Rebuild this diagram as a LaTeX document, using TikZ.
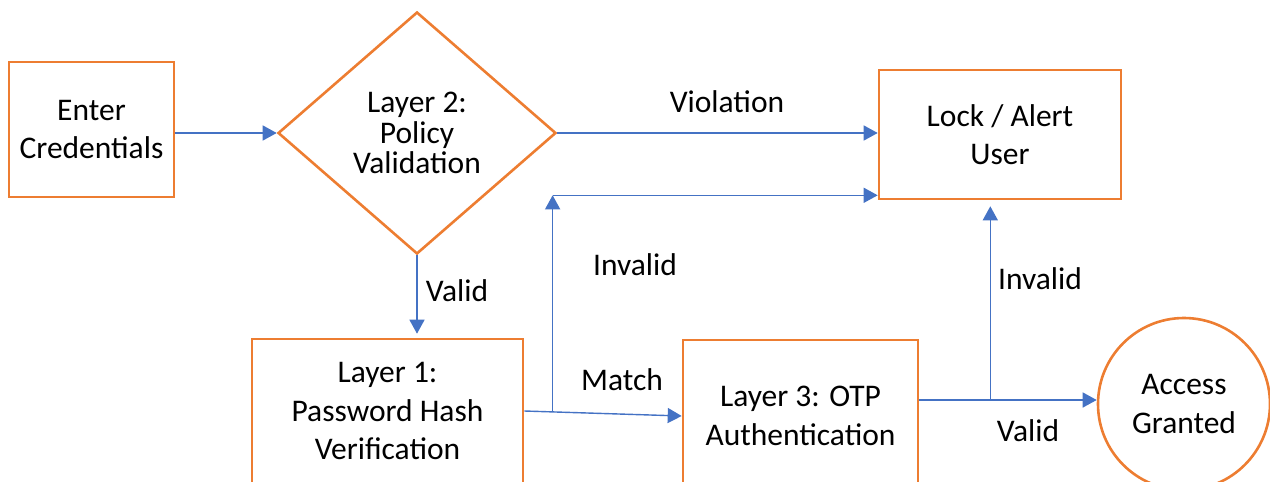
\documentclass[tikz,border=0pt]{standalone}
\usepackage{fontspec}
\setmainfont{Carlito}
\usetikzlibrary{arrows.meta,shapes.geometric,calc}
\definecolor{boxorange}{RGB}{237,125,49}
\definecolor{flowblue}{RGB}{68,114,196}
\tikzset{
  box/.style={draw=boxorange, line width=2.6pt, rectangle, align=center,
    inner sep=0pt, font=\fontsize{31.5}{38.5}\selectfont},
  decision/.style={draw=boxorange, line width=2.6pt, diamond, align=center,
    inner sep=0pt, font=\fontsize{31.5}{30.5}\selectfont},
  terminal/.style={draw=boxorange, line width=2.6pt, circle, align=center,
    inner sep=0pt, font=\fontsize{31.5}{38.5}\selectfont},
  flow/.style={draw=flowblue, line width=1.4pt,
    -{Triangle[length=14pt,width=15pt]}},
  link/.style={draw=flowblue, line width=1.4pt},
  lbl/.style={font=\fontsize{31.5}{38.5}\selectfont, inner sep=0pt}
}
\begin{document}
\begin{tikzpicture}[x=1pt,y=-1pt]
\useasboundingbox (0,0) rectangle (1270,482);
\clip (0,0) rectangle (1270,482);

% process steps
\node[box, minimum width=165pt, minimum height=135pt] (enter) at (91.5,129.5) {Enter\\Credentials};
\node[decision, minimum width=278pt, minimum height=242pt] (policy) at (417,133) {Layer 2:\\Policy\\Validation};
\node[box, minimum width=242pt, minimum height=129pt] (lock) at (1000,134.5) {Lock / Alert\\User};
\node[box, minimum width=271pt, minimum height=144pt] (hash) at (387.5,411) {Layer 1:\\Password Hash\\Verification};
\node[box, minimum width=235pt, minimum height=152pt] (otp) at (800.5,416) {Layer 3: OTP\\Authentication};
\node[terminal, minimum size=172pt] (granted) at (1184,404) {Access\\Granted};

% helper points for the branching connectors
\coordinate (j1) at ($(hash.east)!0.18!(otp.west)$);
\coordinate (turn) at ($(j1 |- lock.south)+(0,-5)$);
\coordinate (v) at ($(otp.east)+(0,-16)$);
\coordinate (j2) at ($(v)+(71,0)$);

% connectors
\draw[flow] (enter.east |- policy.west) -- (policy.west);
\draw[flow] (policy.east) -- (policy.east -| lock.west);
\draw[flow] (policy.south) -- ([yshift=4pt]policy.south |- hash.north);
\draw[flow] (hash.east) -- (otp.west);
\draw[flow] (j1) -- (turn);
\draw[flow] (turn) -- (turn -| lock.west);
\draw[flow] (v) -- (v -| granted.west);
\draw[flow] (j2) -- ([yshift=-6pt]j2 |- lock.south);

% connector labels
\node[lbl] (lviol) at (727,102) {Violation};
\node[lbl] (linv1) at (635,265) {Invalid};
\node[lbl] (lval1) at (457,291) {Valid};
\node[lbl] (lmatch) at (622,380) {Match};
\node[lbl] (linv2) at (1040,279) {Invalid};
\node[lbl] (lval2) at (1028,431) {Valid};
\end{tikzpicture}
\end{document}
